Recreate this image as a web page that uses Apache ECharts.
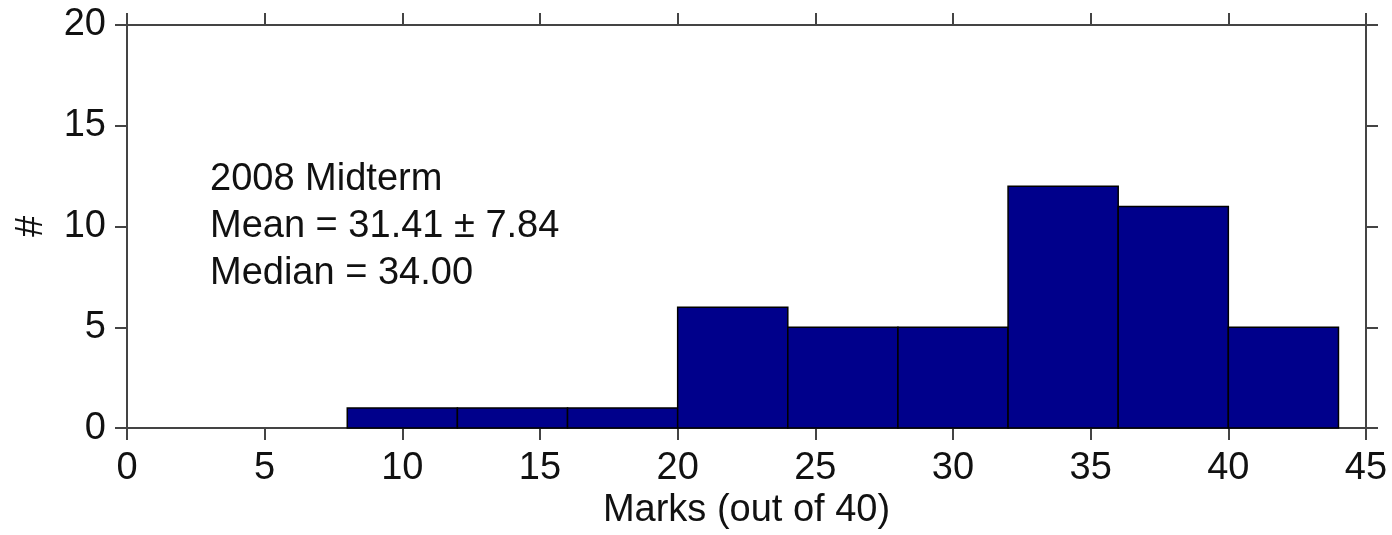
<!DOCTYPE html>
<html>
<head>
<meta charset="utf-8">
<script src="https://cdn.jsdelivr.net/npm/echarts@6/dist/echarts.min.js"></script>
<style>
  html, body { margin: 0; padding: 0; background: #fff; }
  #chart { width: 1392px; height: 535px; }
</style>
</head>
<body>
<div id="chart"></div>
<script>
    // histogram data
    var binStarts = [8, 12, 16, 20, 24, 28, 32, 36, 40];
    var binWidth = 4;
    var counts = [1, 1, 1, 6, 5, 5, 12, 11, 5];
    var xTicks = [0, 5, 10, 15, 20, 25, 30, 35, 40, 45];
    var yTicks = [0, 5, 10, 15, 20];
    var annotLines = ['2008 Midterm', 'Mean = 31.41 \u00b1 7.84', 'Median = 34.00'];

    var font = '"Liberation Sans", Arial, Helvetica, sans-serif';
    var fontSize = 38;
    var lineCol = '#444';

    var bars = binStarts.map(function (s, i) { return [s, s + binWidth, counts[i]]; });

    function axisCommon(show) {
        return {
            axisLine: { show: true, onZero: false, lineStyle: { color: lineCol, width: 2 } },
            axisTick: { show: true, length: 12, lineStyle: { color: lineCol, width: 2 } },
            splitLine: { show: false },
            axisLabel: { show: show, color: '#111', fontSize: fontSize, fontFamily: font, margin: 21 }
        };
    }

    var myChart = echarts.init(document.getElementById('chart'));

    option = {
        animation: false,
        backgroundColor: '#fff',
        grid: { left: 127, right: 26, top: 25, bottom: 105 },
        xAxis: [
            Object.assign({
                type: 'value', min: xTicks[0], max: xTicks[xTicks.length - 1], interval: 5, position: 'bottom',
                name: 'Marks (out of 40)', nameLocation: 'middle', nameGap: 55,
                nameTextStyle: { color: '#111', fontSize: fontSize, fontFamily: font }
            }, axisCommon(true)),
            Object.assign({
                type: 'value', min: xTicks[0], max: xTicks[xTicks.length - 1], interval: 5, position: 'top'
            }, axisCommon(false))
        ],
        yAxis: [
            Object.assign({
                type: 'value', min: yTicks[0], max: yTicks[yTicks.length - 1], interval: 5, position: 'left',
                name: '#', nameLocation: 'middle', nameGap: 76, nameRotate: 90,
                nameTextStyle: { color: '#111', fontSize: fontSize, fontFamily: font }
            }, axisCommon(true)),
            Object.assign({
                type: 'value', min: yTicks[0], max: yTicks[yTicks.length - 1], interval: 5, position: 'right'
            }, axisCommon(false))
        ],
        series: [
            {
                type: 'custom',
                xAxisIndex: 0,
                yAxisIndex: 0,
                data: bars,
                encode: { x: [0, 1], y: 2 },
                renderItem: function (params, api) {
                    var p0 = api.coord([api.value(0), 0]);
                    var p1 = api.coord([api.value(1), api.value(2)]);
                    return {
                        type: 'rect',
                        shape: { x: p0[0], y: p1[1], width: p1[0] - p0[0], height: p0[1] - p1[1] },
                        style: { fill: '#00008b', stroke: '#000', lineWidth: 1.5 }
                    };
                }
            }
        ],
        graphic: annotLines.map(function (t, i) {
            return {
                type: 'text',
                x: 210,
                y: 180 + i * 47,
                style: {
                    text: t,
                    fill: '#111',
                    font: fontSize + 'px ' + font,
                    textVerticalAlign: 'middle'
                }
            };
        })
    };

    myChart.setOption(option);
</script>
</body>
</html>
